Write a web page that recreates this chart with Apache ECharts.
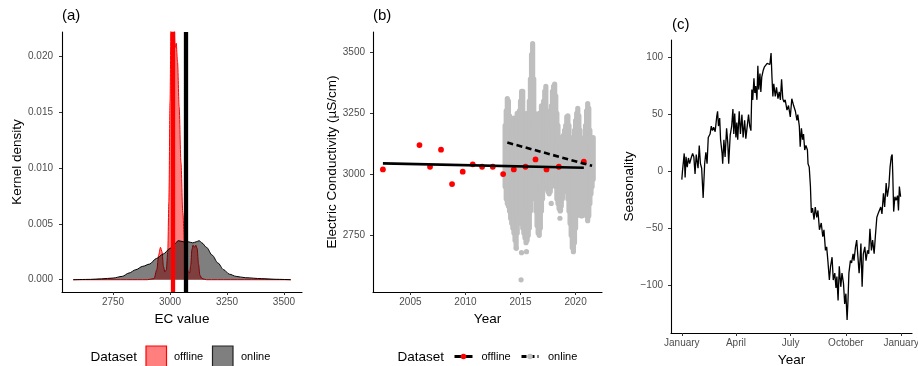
<!DOCTYPE html>
<html>
<head>
<meta charset="utf-8">
<script src="https://cdn.jsdelivr.net/npm/echarts@6/dist/echarts.min.js"></script>
<style>
html, body { margin: 0; padding: 0; background: #fff; }
#chart { width: 918px; height: 366px; }
</style>
</head>
<body>
<div id="chart"></div>
<script>
// ---- (a) kernel density of EC values ----
const ecOffline = [2575, 2900, 2930, 2942, 2950, 2958, 2965, 2971, 2977, 2984, 2990, 2995, 3000, 3005, 3011, 3017, 3022, 3027, 3033, 3040, 3048, 3056, 3064, 3072, 3080, 3086, 3091, 3096, 3101, 3107, 3113, 3119, 3125, 3131, 3140, 3160, 3530];
const densityOffline = [0, 0, 0.0001, 0.0009, 0.0022, 0.0029, 0.0025, 0.0012, 0.0007, 0.0009, 0.0025, 0.007, 0.016, 0.025, 0.029, 0.025, 0.0208, 0.0212, 0.0195, 0.0155, 0.0105, 0.006, 0.003, 0.0014, 0.0007, 0.0006, 0.0013, 0.0027, 0.0031, 0.0029, 0.0031, 0.0028, 0.0014, 0.0004, 0.0001, 0, 0];
const ecOnline = [2575, 2650, 2700, 2750, 2790, 2820, 2850, 2880, 2910, 2940, 2970, 3000, 3020, 3036, 3060, 3080, 3100, 3115, 3128, 3140, 3160, 3185, 3210, 3235, 3260, 3290, 3330, 3400, 3460, 3530];
const densityOnline = [0, 0.00003, 0.00008, 0.00015, 0.0003, 0.0006, 0.0009, 0.0012, 0.0014, 0.0019, 0.0023, 0.0028, 0.0032, 0.0035, 0.0034, 0.0034, 0.0033, 0.0034, 0.0035, 0.0033, 0.0029, 0.0022, 0.0015, 0.0009, 0.0005, 0.0003, 0.00018, 0.0001, 0.00004, 0];
const meanOffline = 3012;
const meanOnline = 3071;
const ecTicks = [2750, 3000, 3250, 3500];
const densityTicks = [0, 0.005, 0.01, 0.015, 0.02];

// ---- (b) EC over time ----
const offlineYears = [2002.5, 2005.82, 2006.78, 2007.78, 2008.78, 2009.75, 2010.66, 2011.51, 2012.48, 2013.42, 2014.39, 2015.45, 2016.36, 2017.36, 2018.48, 2020.75];
const offlineEC = [3020, 3120, 3031, 3101, 2960, 3011, 3041, 3031, 3031, 3001, 3020, 3031, 3061, 3020, 3031, 3052];
// online daily cloud, read as vertical spread per tenth of a year
const onlineYears = [2013.6, 2013.7, 2013.8, 2013.9,
  2014.0, 2014.1, 2014.2, 2014.3, 2014.4, 2014.5, 2014.6, 2014.7, 2014.8, 2014.9,
  2015.0, 2015.1, 2015.2, 2015.3, 2015.4, 2015.5, 2015.6, 2015.7, 2015.8, 2015.9,
  2016.0, 2016.1, 2016.2, 2016.3, 2016.4, 2016.5, 2016.6, 2016.7, 2016.8, 2016.9,
  2017.0, 2017.1, 2017.2, 2017.3, 2017.4, 2017.5, 2017.6, 2017.7, 2017.8, 2017.9,
  2018.0, 2018.1, 2018.2, 2018.3, 2018.4, 2018.5, 2018.6, 2018.7, 2018.8, 2018.9,
  2019.0, 2019.1, 2019.2, 2019.3, 2019.4, 2019.5, 2019.6, 2019.7, 2019.8, 2019.9,
  2020.0, 2020.1, 2020.2, 2020.3, 2020.4, 2020.5, 2020.6, 2020.7, 2020.8, 2020.9,
  2021.0, 2021.1, 2021.2, 2021.3, 2021.4, 2021.5, 2021.6];
const onlineHigh = [3200, 3260, 3310, 3300,
  3240, 3200, 3180, 3200, 3230, 3180, 3160, 3250, 3220, 3260,
  3300, 3340, 3340, 3250, 3200, 3220, 3250, 3240, 3300, 3390,
  3490, 3535, 3390, 3250, 3200, 3160, 3200, 3250, 3220, 3280,
  3240, 3300, 3340, 3360, 3260, 3200, 3180, 3200, 3280, 3340,
  3360, 3370, 3320, 3250, 3200, 3150, 3120, 3150, 3120, 3160,
  3180, 3200, 3235, 3240, 3200, 3150, 3100, 3120, 3100, 3180,
  3220, 3250, 3270, 3240, 3180, 3120, 3080, 3100, 3150, 3200,
  3260, 3290, 3270, 3180, 3130, 3120, 3150];
const onlineLow = [2950, 2900, 2880, 2870,
  2850, 2820, 2800, 2780, 2760, 2730, 2700, 2760, 2800, 2850,
  2830, 2800, 2780, 2760, 2740, 2720, 2730, 2750, 2780, 2850,
  2900, 2950, 2960, 2900, 2850, 2790, 2760, 2750, 2780, 2850,
  2900, 2950, 2960, 2970, 2940, 2930, 2920, 2930, 2950, 2960,
  2980, 2970, 2950, 2900, 2880, 2860, 2850, 2870, 2900, 2930,
  2950, 2940, 2930, 2900, 2850, 2800, 2750, 2700, 2690, 2720,
  2780, 2830, 2850, 2850, 2840, 2830, 2830, 2850, 2880, 2860,
  2830, 2810, 2830, 2880, 2920, 2950, 2980];
const strayYears = [2014.61, 2015.05, 2015.09, 2015.54, 2017.79, 2018.58, 2018.64, 2019.8];
const strayEC = [2697, 2568, 2679, 2683, 2881, 2820, 2854, 2683];
const offlineTrendYears = [2002.5, 2020.75];
const offlineTrendEC = [3045, 3027];
const onlineTrendYears = [2013.8, 2021.5];
const onlineTrendEC = [3130, 3035];
const yearTicks = [2005, 2010, 2015, 2020];
const ecTimeTicks = [2750, 3000, 3250, 3500];

// ---- (c) seasonality, day of year ----
const seasonDays = [0, 1, 4, 5.5, 7, 9, 11, 13, 15.5, 18, 20, 22, 24, 27, 29, 31, 33, 35.5, 38, 40, 42, 44, 47, 49, 51, 53, 55.5, 58, 59.5, 61, 63, 64.5, 67, 68, 70, 72, 74.5, 76.5, 78, 80.5, 83, 85, 86.5, 88, 90, 91.5, 93, 95.5, 97.5, 100, 102, 104.5, 106.5, 109, 111, 113, 115, 116.5, 118, 120, 121.5, 123, 125, 126.5, 128, 130, 131.5, 133, 135.5, 137.5, 140, 142, 144.5, 146.5, 148.5, 150, 151.5, 153, 155.5, 157.5, 160, 162, 164, 166, 168, 170, 172, 175, 177.5, 180.5, 183, 186, 189, 191.5, 193, 195.5, 197, 199, 201, 202.5, 204.5, 206.5, 209, 210, 212, 214, 215.5, 217.5, 220, 222, 224.5, 226.5, 229, 230.5, 232, 234.5, 236.5, 239, 241, 243, 245.5, 247.5, 250, 252, 254.5, 256.5, 258, 260, 262, 264.5, 266.5, 269, 271, 273, 275, 276.5, 278, 280.5, 282.5, 285, 286.5, 289, 291, 293, 295, 296.5, 298, 300, 302, 304.5, 306.5, 309, 311, 313, 315.5, 317.5, 320, 322, 324.5, 326.5, 329, 331, 333, 335.5, 337.5, 340, 342, 344.5, 346.5, 348.5, 350, 351, 352.5, 354.5, 356.5, 359, 360.5, 362, 364];
const seasonValues = [-7, 0, 16, -5, 13, 4, 12, 7, 12, 16, 13, -2, 15, 3, 23, 7, 3, -23, 7, 17, 7, 30, 33, 40, 36, 39, 35, 48, 53, 40, 47, 28, 16, 7, 28, 13, 38, 25, 7, 32, 40, 55, 33, 51, 30, 43, 28, 53, 33, 50, 30, 45, 29, 28, 50, 40, 36, 72, 63, 82, 69, 75, 63, 93, 72, 86, 70, 83, 89, 92, 93, 95, 96, 94, 104, 83, 66, 77, 66, 74, 64, 70, 63, 81, 64, 61, 63, 54, 58, 48, 64, 58, 53, 45, 50, 40, 22, 38, 28, 33, 19, 23, 19, 7, 4, -13, -36, -32, -42, -31, -40, -34, -51, -48, -45, -57, -51, -69, -66, -78, -95, -83, -75, -95, -89, -102, -92, -113, -83, -101, -89, -98, -116, -107, -130, -113, -89, -78, -80, -72, -78, -66, -60, -61, -89, -78, -63, -101, -72, -66, -78, -69, -72, -50, -69, -60, -72, -57, -40, -37, -38, -31, -37, -19, -31, -10, -22, -13, 4, 13, 15, -2, -35, -22, -25, -21, -34, -13, -22, -3];
const monthTicks = [0, 90, 181, 273, 365];
const monthLabels = ['January', 'April', 'July', 'October', 'January'];
const seasonTicks = [-100, -50, 0, 50, 100];

const FONT = '"Liberation Sans", Arial, Helvetica, sans-serif';
const zip = (a, b) => a.map((v, i) => [v, b[i]]);

function axisStyle(ticks, formatter, margin) {
	return {
		axisLine: { show: true, onZero: false, lineStyle: { color: '#000', width: 1.1 } },
		axisTick: { show: true, customValues: ticks, length: 3, lineStyle: { color: '#333', width: 1 } },
		axisLabel: { customValues: ticks, formatter, margin, color: '#4d4d4d', fontSize: 10, fontFamily: FONT },
		splitLine: { show: false },
		nameLocation: 'middle',
		nameTextStyle: { color: '#000', fontSize: 13.5, fontFamily: FONT },
	};
}

const minusFmt = v => (v < 0 ? '\u2212' + Math.abs(v) : String(v));

const chart = echarts.init(document.getElementById('chart'));

chart.setOption({
	animation: false,
	textStyle: { fontFamily: FONT },
	grid: [
		{ left: 62, top: 32, width: 240, height: 260, containLabel: false, outerBoundsMode: 'none' },
		{ left: 373, top: 32, width: 229, height: 260, containLabel: false, outerBoundsMode: 'none' },
		{ left: 671, top: 40, width: 241, height: 293, containLabel: false, outerBoundsMode: 'none' },
	],
	xAxis: [
		Object.assign(axisStyle(ecTicks, v => String(v), 5), {
			type: 'value', gridIndex: 0, min: 2526, max: 3579, name: 'EC value', nameGap: 17,
		}),
		Object.assign(axisStyle(yearTicks, v => String(v), 5), {
			type: 'value', gridIndex: 1, min: 2001.6, max: 2022.4, name: 'Year', nameGap: 17,
		}),
		Object.assign(axisStyle(monthTicks, v => monthLabels[monthTicks.indexOf(v)], 5), {
			type: 'value', gridIndex: 2, min: -18, max: 383, name: 'Year', nameGap: 12,
		}),
	],
	yAxis: [
		Object.assign(axisStyle(densityTicks, v => v.toFixed(3), 9), {
			type: 'value', gridIndex: 0, min: -0.0011, max: 0.0222, name: 'Kernel density', nameGap: 38,
		}),
		Object.assign(axisStyle(ecTimeTicks, v => String(v), 8), {
			type: 'value', gridIndex: 1, min: 2518, max: 3583, name: 'Electric Conductivity (\u00b5S/cm)', nameGap: 34,
		}),
		Object.assign(axisStyle(seasonTicks, minusFmt, 8), {
			type: 'value', gridIndex: 2, min: -141.5, max: 115.5, name: 'Seasonality', nameGap: 35,
		}),
	],
	series: [
		// (a)
		{
			name: 'offline', type: 'line', xAxisIndex: 0, yAxisIndex: 0, z: 2,
			data: zip(ecOffline, densityOffline), showSymbol: false, smooth: 0.3, smoothMonotone: 'x',
			lineStyle: { color: '#ff0000', width: 1 }, areaStyle: { color: 'rgba(255,0,0,0.5)', opacity: 1 },
		},
		{
			name: 'online', type: 'line', xAxisIndex: 0, yAxisIndex: 0, z: 3,
			data: zip(ecOnline, densityOnline), showSymbol: false, smooth: 0.3, smoothMonotone: 'x',
			lineStyle: { color: '#000', width: 1 }, areaStyle: { color: 'rgba(0,0,0,0.5)', opacity: 1 },
		},
		{
			name: 'means', type: 'line', xAxisIndex: 0, yAxisIndex: 0, z: 6, data: [],
			markLine: {
				silent: true, symbol: ['none', 'none'], label: { show: false }, animation: false,
				data: [
					{ xAxis: meanOffline, lineStyle: { color: '#ff0000', width: 4.3, type: 'solid' } },
					{ xAxis: meanOnline, lineStyle: { color: '#000', width: 4.3, type: 'solid' } },
				],
			},
		},
		// (b)
		{
			name: 'online cloud', type: 'custom', xAxisIndex: 1, yAxisIndex: 1, z: 2,
			data: onlineYears.map((y, i) => [y, onlineLow[i], onlineHigh[i]]),
			encode: { x: 0, y: [1, 2] },
			renderItem: (params, api) => {
				const top = api.coord([api.value(0), api.value(2)]);
				const bottom = api.coord([api.value(0), api.value(1)]);
				const w = 5.2;
				return {
					type: 'rect',
					shape: { x: top[0] - w / 2, y: top[1] - w / 2, width: w, height: bottom[1] - top[1] + w, r: w / 2 },
					style: { fill: '#bebebe' },
				};
			},
		},
		{
			name: 'online stray', type: 'scatter', xAxisIndex: 1, yAxisIndex: 1, z: 2,
			data: zip(strayYears, strayEC), symbolSize: 5.2, itemStyle: { color: '#bebebe', opacity: 1 },
		},
		{
			name: 'offline points', type: 'scatter', xAxisIndex: 1, yAxisIndex: 1, z: 3,
			data: zip(offlineYears, offlineEC), symbolSize: 5.8, itemStyle: { color: '#ff0000', opacity: 1 },
		},
		{
			name: 'offline trend', type: 'line', xAxisIndex: 1, yAxisIndex: 1, z: 4,
			data: zip(offlineTrendYears, offlineTrendEC), showSymbol: false,
			lineStyle: { color: '#000', width: 2.6 },
		},
		{
			name: 'online trend', type: 'line', xAxisIndex: 1, yAxisIndex: 1, z: 4,
			data: zip(onlineTrendYears, onlineTrendEC), showSymbol: false,
			lineStyle: { color: '#000', width: 2.6, type: [6, 3.5] },
		},
		// (c)
		{
			name: 'seasonality', type: 'line', xAxisIndex: 2, yAxisIndex: 2,
			data: zip(seasonDays, seasonValues), showSymbol: false,
			lineStyle: { color: '#000', width: 1.3 },
		},
	],
	graphic: [
		// panel tags
		{ type: 'text', left: 62, top: 8, style: { text: '(a)', font: '15px ' + FONT, fill: '#000' } },
		{ type: 'text', left: 373, top: 8, style: { text: '(b)', font: '15px ' + FONT, fill: '#000' } },
		{ type: 'text', left: 672, top: 17, style: { text: '(c)', font: '15px ' + FONT, fill: '#000' } },
		// legend (a)
		{ type: 'text', x: 90.5, y: 357, style: { text: 'Dataset', font: '13.5px ' + FONT, fill: '#000', verticalAlign: 'middle' } },
		{ type: 'rect', shape: { x: 146, y: 346, width: 20.5, height: 21 }, style: { fill: 'rgba(255,0,0,0.5)', stroke: '#ff0000', lineWidth: 1.2 } },
		{ type: 'text', x: 174, y: 357, style: { text: 'offline', font: '11px ' + FONT, fill: '#000', verticalAlign: 'middle' } },
		{ type: 'rect', shape: { x: 212.5, y: 346, width: 20.5, height: 21 }, style: { fill: 'rgba(0,0,0,0.5)', stroke: '#222', lineWidth: 1.2 } },
		{ type: 'text', x: 241, y: 357, style: { text: 'online', font: '11px ' + FONT, fill: '#000', verticalAlign: 'middle' } },
		// legend (b)
		{ type: 'text', x: 397.5, y: 357, style: { text: 'Dataset', font: '13.5px ' + FONT, fill: '#000', verticalAlign: 'middle' } },
		{ type: 'line', shape: { x1: 454.5, y1: 356.5, x2: 472.5, y2: 356.5 }, style: { stroke: '#000', lineWidth: 3 } },
		{ type: 'circle', shape: { cx: 463.5, cy: 356.5, r: 2.8 }, style: { fill: '#ff0000' } },
		{ type: 'text', x: 481.5, y: 357, style: { text: 'offline', font: '11px ' + FONT, fill: '#000', verticalAlign: 'middle' } },
		{ type: 'line', shape: { x1: 521.5, y1: 356.5, x2: 538.5, y2: 356.5 }, style: { stroke: '#000', lineWidth: 3, lineDash: [5, 3] } },
		{ type: 'circle', shape: { cx: 530, cy: 356.5, r: 2.8 }, style: { fill: '#bebebe' } },
		{ type: 'text', x: 548, y: 357, style: { text: 'online', font: '11px ' + FONT, fill: '#000', verticalAlign: 'middle' } },
	],
});
</script>
</body>
</html>
